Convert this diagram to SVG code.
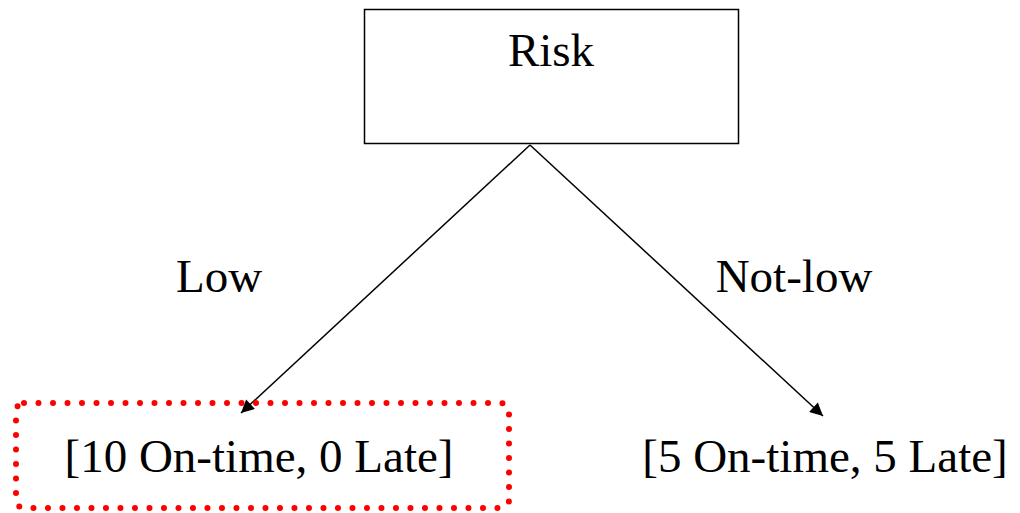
<svg xmlns="http://www.w3.org/2000/svg" width="1020" height="513" viewBox="0 0 1020 513">
<style>
text{font-family:"Liberation Serif","Times New Roman",serif;font-size:47px;fill:#000;text-anchor:middle}
.edge{stroke:#000;stroke-width:1.5;fill:none}
</style>
<defs>
<marker id="ah" viewBox="0 0 10 10" refX="10" refY="5" markerWidth="15" markerHeight="13" markerUnits="userSpaceOnUse" orient="auto">
<path d="M0,0 L10,5 L0,10 z" fill="#000"/>
</marker>
</defs>
<rect width="1020" height="513" fill="#fff"/>
<g id="connectors">
<line class="edge" x1="530" y1="145" x2="241" y2="413" marker-end="url(#ah)"/>
<line class="edge" x1="530" y1="145" x2="823" y2="416" marker-end="url(#ah)"/>
<text x="219" y="292">Low</text>
<text x="794" y="292">Not-low</text>
</g>
<g id="risk">
<rect x="364.5" y="9.5" width="374" height="134" fill="#fff" stroke="#000" stroke-width="1.5"/>
<text x="551" y="66">Risk</text>
</g>
<g id="low-leaf">
<rect x="16" y="403" width="493" height="105" rx="8" fill="none" stroke="#ff0000" stroke-width="6" stroke-linecap="round" stroke-dasharray="0 14.5"/>
<text x="259" y="472">[10 On-time, 0 Late]</text>
</g>
<g id="notlow-leaf">
<text x="825" y="472">[5 On-time, 5 Late]</text>
</g>
</svg>
